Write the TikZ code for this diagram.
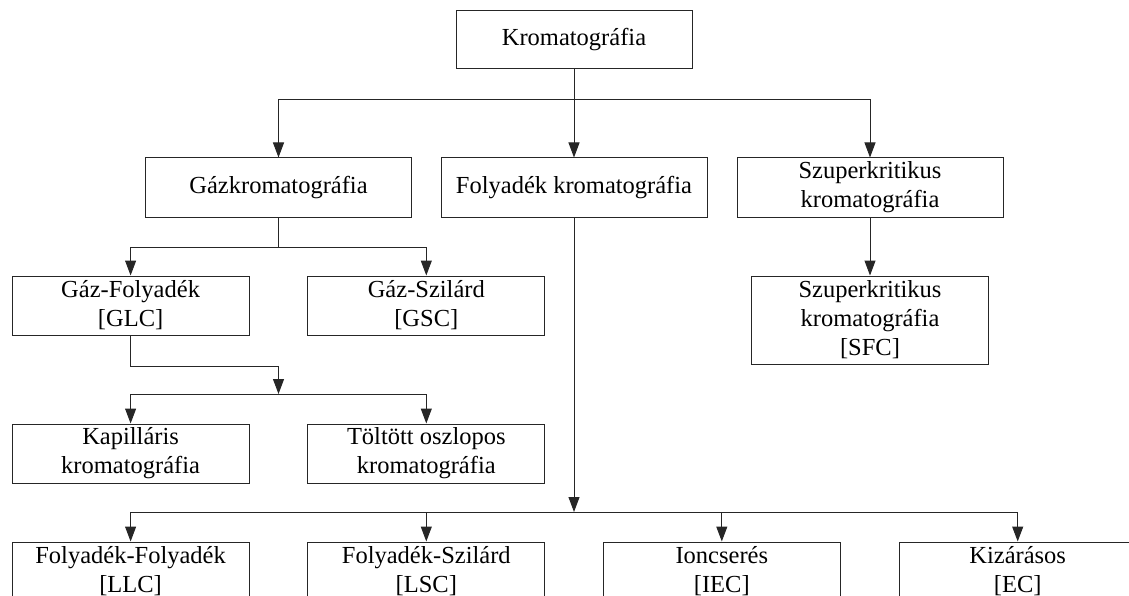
\documentclass[tikz,border=0pt]{standalone}
\usepackage{fontspec}
\setmainfont{Liberation Serif}
\usetikzlibrary{arrows.meta}
\begin{document}
\begin{tikzpicture}[x=1pt,y=-1pt,
  box/.style={draw=black!85, line width=1pt, rectangle, inner sep=0pt, align=center,
    font=\fontsize{24.5}{29}\selectfont},
  wa/.style={box, minimum width=266pt, minimum height=59pt},
  wb/.style={box, minimum width=237pt, minimum height=59pt},
  arr/.style={draw=black!85, line width=1pt, -{Triangle[length=15pt,width=11pt]}},
  ln/.style={draw=black!85, line width=1pt}]
\useasboundingbox (0,0) rectangle (1129,596);
\clip (0,0) rectangle (1129,596);
\node[box, minimum width=236pt, minimum height=58pt] (root) at (574,40) {Kromatográfia};
\node[wa] (gc) at (278.5,187.5) {Gázkromatográfia};
\node[wa] (lc) at (574,187.5) {Folyadék kromatográfia};
\node[wa] (sc) at (870,187.5) {Szuperkritikus\\kromatográfia};
\node[wb] (glc) at (130.6,305.5) {Gáz-Folyadék\\{}[GLC]};
\node[wb] (gsc) at (426.3,305.5) {Gáz-Szilárd\\{}[GSC]};
\node[wb, minimum height=88pt] (sfc) at (870,320) {Szuperkritikus\\kromatográfia\\{}[SFC]};
\node[wb] (kap) at (130.6,453.5) {Kapilláris\\kromatográfia};
\node[wb] (tolt) at (426.3,453.5) {Töltött oszlopos\\kromatográfia};
\node[wb] (llc) at (130.6,571.5) {Folyadék-Folyadék\\{}[LLC]};
\node[wb] (lsc) at (426.3,571.5) {Folyadék-Szilárd\\{}[LSC]};
\node[wb] (iec) at (721.8,571.5) {Ioncserés\\{}[IEC]};
\node[wb] (ec) at (1017.7,571.5) {Kizárásos\\{}[EC]};
\coordinate (j1) at (278.5,394);
\coordinate (j2) at (574,512);
% level 1
\draw[arr] (root.south) -- ++(0,30) -| (gc.north);
\draw[arr] (root.south) -- ++(0,30) -| (sc.north);
\draw[arr] (root.south) -- (lc.north);
% gas
\draw[arr] (gc.south) -- ++(0,29.5) -| (glc.north);
\draw[arr] (gc.south) -- ++(0,29.5) -| (gsc.north);
\draw[arr] (glc.south) -- ++(0,30.5) -| (j1);
\draw[arr] (j1) -| (kap.north);
\draw[arr] (j1) -| (tolt.north);
% supercritical
\draw[arr] (sc.south) -- (sfc.north);
% liquid
\draw[arr] (lc.south) -- (j2);
\draw[arr] (j2) -| (llc.north);
\draw[arr] (j2) -| (lsc.north);
\draw[arr] (j2) -| (iec.north);
\draw[arr] (j2) -| (ec.north);
\end{tikzpicture}
\end{document}
